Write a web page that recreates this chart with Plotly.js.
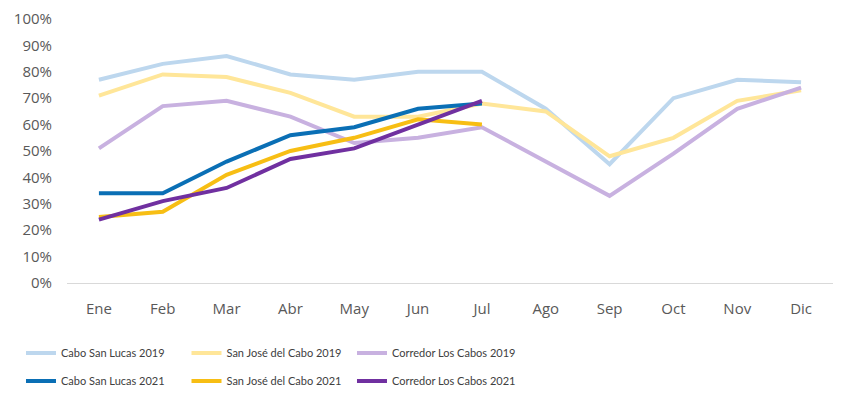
<!DOCTYPE html>
<html>
<head>
<meta charset="utf-8">
<script src="https://cdn.plot.ly/plotly-3.0.1.min.js"></script>
<style>html,body{margin:0;padding:0;background:#fff;}#chart{width:850px;height:396px;}</style>
</head>
<body>
<div id="chart"></div>
<script>
const months = ["Ene","Feb","Mar","Abr","May","Jun","Jul","Ago","Sep","Oct","Nov","Dic"];
const months2021 = ["Ene","Feb","Mar","Abr","May","Jun","Jul"];

const cabo2019 = [0.77,0.83,0.86,0.79,0.77,0.80,0.80,0.66,0.45,0.70,0.77,0.76];
const sanjose2019 = [0.71,0.79,0.78,0.72,0.63,0.63,0.68,0.65,0.48,0.55,0.69,0.73];
const corredor2019 = [0.51,0.67,0.69,0.63,0.53,0.55,0.59,0.46,0.33,0.49,0.66,0.74];
const cabo2021 = [0.34,0.34,0.46,0.56,0.59,0.66,0.68];
const sanjose2021 = [0.25,0.27,0.41,0.50,0.55,0.62,0.60];
const corredor2021 = [0.24,0.31,0.36,0.47,0.51,0.60,0.69];

const names = ["Cabo San Lucas 2019","San José del Cabo 2019","Corredor Los Cabos 2019",
               "Cabo San Lucas 2021","San José del Cabo 2021","Corredor Los Cabos 2021"];
const colors = ["#bdd7ee","#ffe699","#c8b1e0","#0a6fb5","#f7be14","#7030a0"];

const series = [
  [months, cabo2019], [months, sanjose2019], [months, corredor2019],
  [months2021, cabo2021], [months2021, sanjose2021], [months2021, corredor2021]
];

const traces = series.map((s, i) => ({
  type: "scatter", mode: "lines",
  x: s[0], y: s[1], name: names[i],
  line: {color: colors[i], width: 4},
  legend: i < 3 ? "legend" : "legend2",
  hoverinfo: "skip"
}));

const axisFont = {family: "Open Sans, Noto Sans, sans-serif", size: 15, color: "#595959"};
const legFont = {family: "Lato, sans-serif", size: 11, color: "#404040"};

const legendCommon = {
  orientation: "h", xref: "container", yref: "container",
  x: 0.0247, xanchor: "left", yanchor: "middle",
  entrywidth: 120.5, entrywidthmode: "pixels",
  font: legFont, bgcolor: "rgba(0,0,0,0)", traceorder: "normal"
};

const layout = {
  width: 850, height: 396,
  margin: {l: 67, r: 17, t: 19, b: 113},
  paper_bgcolor: "#ffffff", plot_bgcolor: "#ffffff",
  showlegend: true,
  xaxis: {
    type: "category", categoryorder: "array", categoryarray: months,
    range: [-0.5, 11.5], showline: true, linecolor: "#d9d9d9", linewidth: 1,
    showgrid: false, zeroline: false, ticks: "", tickfont: axisFont,
    ticklabelstandoff: 12, fixedrange: true
  },
  yaxis: {
    range: [0, 1], dtick: 0.1, tick0: 0, tickformat: ".0%",
    showline: false, showgrid: false, zeroline: false, ticks: "",
    tickfont: axisFont, ticklabelstandoff: 14, fixedrange: true
  },
  legend: Object.assign({}, legendCommon, {y: 1 - 353/396}),
  legend2: Object.assign({}, legendCommon, {y: 1 - 381/396})
};

Plotly.newPlot("chart", traces, layout, {displayModeBar: false, staticPlot: true});
</script>
</body>
</html>
